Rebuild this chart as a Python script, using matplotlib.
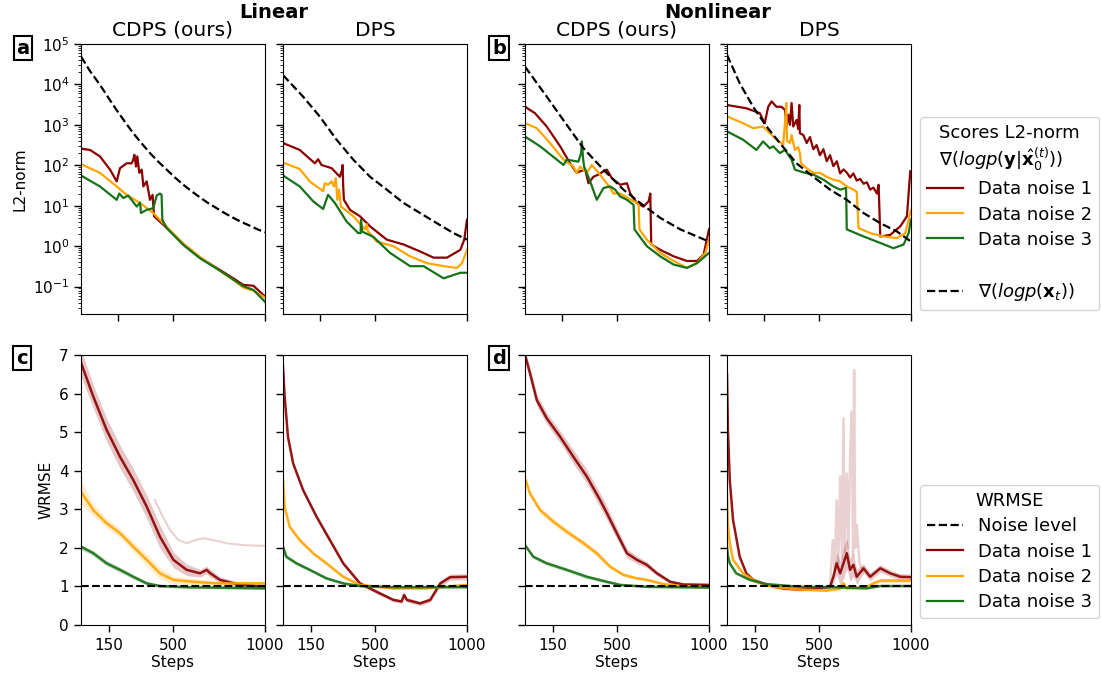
import numpy as np
import matplotlib.pyplot as plt
from matplotlib.lines import Line2D
from matplotlib.ticker import LogLocator, NullFormatter

RED = '#8b0000'
ORANGE = '#ffa500'
GREEN = '#177217'

# ---------------- top row: scores L2-norm ----------------
# Linear, CDPS
la_dash_x = [0, 49, 103, 150, 194, 240, 284, 330, 375, 420, 466, 510, 556, 600, 647, 690, 737, 780,
             828, 870, 918, 960, 1000]
la_dash_y = [4.9e4, 2.14e4, 9.8e3, 4.6e3, 2.3e3, 1.17e3, 620, 347, 200, 123, 78, 50, 33, 23, 16,
             11.7, 8.7, 6.6, 5.0, 4.0, 3.2, 2.6, 2.2]
la_red_x = [0, 49, 103, 158, 194, 212, 248, 275, 284, 290, 299, 306, 317, 330, 339, 357, 375, 389, 397,
            447, 556, 647, 737, 828, 882, 937, 1000]
la_red_y = [257, 240, 166, 78, 40, 85, 112, 112, 138, 182, 93, 166, 65, 78, 30, 40, 14, 18.6, 5.5,
            3.4, 1.15, 0.52, 0.29, 0.16, 0.11, 0.105, 0.057]
la_org_x = [0, 103, 194, 248, 321, 393, 447, 556, 647, 737, 828, 882, 937, 1000]
la_org_y = [107, 65, 30, 18.6, 11.7, 6.6, 3.7, 1.15, 0.54, 0.28, 0.145, 0.095, 0.079, 0.054]
la_grn_x = [0, 103, 194, 208, 230, 257, 303, 321, 326, 357, 393, 411, 429, 438, 442, 466, 556, 647,
            737, 828, 882, 937, 1000]
la_grn_y = [56, 30, 14, 20, 15.5, 17.8, 9.5, 12, 6.6, 7.9, 8.7, 17.8, 20, 18.6, 4.5, 2.8, 1.07, 0.5,
            0.28, 0.15, 0.102, 0.083, 0.042]

# Linear, DPS
lb_dash_x = [0, 109, 200, 291, 382, 473, 564, 655, 745, 836, 927, 1000]
lb_dash_y = [1.7e4, 5.0e3, 1.6e3, 430, 138, 52, 25, 11.7, 6.6, 3.7, 2.1, 1.45]
lb_red_x = [0, 91, 173, 191, 209, 264, 309, 322, 324, 327, 331, 364, 418, 473, 564, 655, 745, 818,
            891, 964, 985, 1000]
lb_red_y = [355, 240, 112, 141, 102, 85, 52, 80, 102, 32, 14, 7.9, 5.5, 3.1, 1.45, 1.1, 0.74, 0.52,
            0.52, 0.81, 1.45, 4.5]
lb_org_x = [0, 91, 145, 218, 227, 245, 264, 276, 287, 295, 305, 315, 327, 382, 445, 455, 460, 509,
            600, 691, 782, 873, 945, 973, 1000]
lb_org_y = [117, 81, 40, 23, 36, 33, 40, 30, 48, 14, 25, 9.5, 8.7, 5.5, 2.6, 3.5, 2.4, 1.3,
            1.0, 0.56, 0.38, 0.32, 0.29, 0.38, 0.81]
lb_grn_x = [0, 91, 164, 218, 245, 282, 345, 409, 422, 424, 430, 491, 582, 691, 764, 873, 964, 1000]
lb_grn_y = [56, 30, 12.9, 8.3, 18.6, 11.7, 4.1, 2.1, 2.1, 4.5, 2.3, 1.7, 0.68, 0.32, 0.32, 0.16,
            0.22, 0.22]

# Nonlinear, CDPS
na_dash_x = [0, 118, 209, 318, 426, 535, 626, 735, 844, 1000]
na_dash_y = [2.75e4, 5.0e3, 1.3e3, 263, 78, 25, 11.7, 5.0, 2.6, 1.3]
na_red_x = [0, 54, 118, 191, 245, 281, 299, 327, 345, 372, 399, 427, 445, 472, 517, 554, 572, 608,
            644, 672, 681, 686, 735, 808, 880, 935, 971, 1000]
na_red_y = [2800, 1950, 910, 295, 112, 65, 71, 78, 36, 52, 59, 71, 78, 48, 33, 36, 20, 11.7,
            9.5, 12.9, 20, 1.1, 0.81, 0.56, 0.43, 0.43, 0.62, 2.6]
na_org_x = [0, 64, 136, 209, 263, 281, 299, 336, 363, 408, 463, 481, 517, 590, 617, 622, 662, 735,
            808, 880, 935, 980, 1000]
na_org_y = [1100, 830, 355, 138, 93, 65, 93, 65, 102, 59, 27.5, 20, 20, 12.9, 11.7, 2.6, 1.45, 0.68,
            0.43, 0.29, 0.38, 0.68, 1.45]
na_grn_x = [0, 82, 209, 227, 290, 305, 309, 315, 321, 354, 390, 427, 463, 490, 517, 554, 590, 595,
            662, 735, 808, 880, 935, 1000]
na_grn_y = [513, 295, 102, 138, 123, 200, 390, 158, 93, 40, 14, 27.5, 30, 25, 17, 14, 10.5, 2.6,
            1.0, 0.56, 0.35, 0.29, 0.38, 0.68]

# Nonlinear, DPS
nb_dash_x = [0, 69, 142, 215, 287, 378, 469, 560, 651, 742, 833, 924, 1000]
nb_dash_y = [5.4e4, 1.07e4, 2800, 910, 355, 112, 52, 25, 14, 6.6, 3.7, 2.3, 1.3]
nb_red_x = [0, 105, 178, 205, 224, 242, 269, 296, 315, 324, 333, 342, 351, 360, 378, 387, 393, 396,
            415, 433, 451, 469, 487, 505, 524, 542, 560, 578, 597, 615, 633, 651, 669, 687, 705,
            724, 742, 760, 778, 796, 815, 824, 833, 887, 942, 978, 996]
nb_red_y = [3100, 2570, 1950, 1100, 2800, 3800, 2800, 2800, 2350, 910, 1780, 1000, 3470, 910, 1320,
            790, 3100, 620, 560, 355, 500, 250, 316, 178, 250, 126, 178, 95, 126, 63, 79, 66, 50,
            63, 42, 46, 35, 38, 25, 28, 20, 33, 1.74, 1.9, 3.1, 5.5, 71]
nb_org_x = [0, 87, 142, 196, 251, 305, 318, 322, 326, 342, 351, 369, 387, 396, 402, 433, 469, 505,
            542, 578, 615, 651, 687, 705, 715, 778, 851, 924, 969, 1000]
nb_org_y = [1620, 1100, 830, 910, 513, 324, 1580, 3470, 400, 355, 560, 240, 282, 200, 112, 85, 65,
            65, 52, 44, 40, 30, 25, 22, 2.8, 2.1, 1.74, 1.58, 2.1, 7.9]
nb_grn_x = [0, 87, 160, 196, 233, 251, 287, 315, 351, 369, 424, 469, 524, 578, 615, 647, 651, 742,
            833, 905, 960, 987, 1000]
nb_grn_y = [690, 430, 240, 390, 263, 295, 200, 240, 138, 78, 65, 59, 44, 30, 25, 27.5, 2.6, 1.74,
            1.2, 0.89, 1.1, 2.1, 4.5]

# ---------------- bottom row: WRMSE (mean and ensemble spread) ----------------
# Linear, CDPS
wa_red_x = [0, 67, 139, 212, 284, 357, 429, 502, 574, 647, 683, 700, 755, 864, 1000]
wa_red_y = [6.8, 5.92, 5.06, 4.36, 3.76, 3.07, 2.29, 1.69, 1.43, 1.34, 1.43, 1.35, 1.17, 1.04, 0.99]
wa_red_s = [0.35, 0.3, 0.3, 0.3, 0.3, 0.3, 0.3, 0.2, 0.15, 0.1, 0.1, 0.1, 0.08, 0.06, 0.06]
wa_out_x = [400, 440, 484, 530, 574, 620, 665, 720, 792, 880, 1000]
wa_out_y = [3.25, 2.85, 2.46, 2.2, 2.12, 2.2, 2.25, 2.2, 2.12, 2.07, 2.05]
wa_org_x = [0, 67, 139, 212, 284, 357, 429, 502, 611, 737, 1000]
wa_org_y = [3.45, 2.98, 2.64, 2.38, 2.03, 1.69, 1.34, 1.17, 1.12, 1.08, 1.08]
wa_org_s = [0.3, 0.15, 0.12, 0.12, 0.12, 0.15, 0.15, 0.1, 0.08, 0.06, 0.05]
wa_grn_x = [0, 67, 139, 212, 284, 357, 429, 574, 1000]
wa_grn_y = [2.03, 1.86, 1.60, 1.43, 1.25, 1.08, 1.01, 0.98, 0.95]
wa_grn_s = [0.07, 0.07, 0.07, 0.07, 0.06, 0.05, 0.04, 0.03, 0.03]

# Linear, DPS
wb_red_x = [0, 9, 27, 55, 109, 182, 255, 327, 418, 509, 600, 645, 658, 673, 745, 800, 855, 909, 1000]
wb_red_y = [6.7, 5.92, 4.88, 4.19, 3.50, 2.81, 2.20, 1.60, 1.08, 0.86, 0.65, 0.61, 0.78, 0.65, 0.56,
            0.65, 1.08, 1.24, 1.25]
wb_red_s = [0.06, 0.06, 0.06, 0.06, 0.06, 0.06, 0.06, 0.06, 0.05, 0.05, 0.05, 0.05, 0.06, 0.06,
            0.06, 0.06, 0.08, 0.08, 0.08]
wb_org_x = [0, 9, 36, 91, 164, 236, 327, 418, 600, 782, 1000]
wb_org_y = [3.76, 3.07, 2.55, 2.20, 1.86, 1.60, 1.25, 1.04, 0.95, 0.95, 1.04]
wb_org_s = [0.05, 0.05, 0.05, 0.05, 0.05, 0.05, 0.04, 0.04, 0.03, 0.03, 0.03]
wb_grn_x = [0, 18, 73, 145, 236, 327, 418, 600, 1000]
wb_grn_y = [2.03, 1.77, 1.60, 1.43, 1.21, 1.08, 1.01, 0.98, 0.98]
wb_grn_s = [0.06, 0.05, 0.05, 0.04, 0.04, 0.03, 0.03, 0.02, 0.02]

# Nonlinear, CDPS
wc_red_x = [0, 27, 64, 118, 191, 263, 336, 408, 445, 499, 554, 608, 662, 717, 789, 862, 1000]
wc_red_y = [7.0, 6.53, 5.83, 5.36, 4.88, 4.36, 3.85, 3.24, 2.90, 2.38, 1.86, 1.69, 1.56, 1.34, 1.12,
            1.05, 1.04]
wc_red_s = [0.15, 0.15, 0.15, 0.15, 0.15, 0.18, 0.18, 0.18, 0.18, 0.15, 0.12, 0.1, 0.08, 0.06, 0.05,
            0.04, 0.04]
wc_org_x = [0, 27, 82, 154, 227, 318, 390, 463, 535, 608, 662, 753, 844, 1000]
wc_org_y = [3.80, 3.41, 2.98, 2.68, 2.42, 2.12, 1.86, 1.51, 1.30, 1.21, 1.17, 1.06, 1.01, 0.99]
wc_org_s = [0.08, 0.08, 0.08, 0.08, 0.08, 0.08, 0.08, 0.06, 0.05, 0.04, 0.04, 0.03, 0.03, 0.03]
wc_grn_x = [0, 45, 118, 227, 336, 445, 517, 662, 1000]
wc_grn_y = [2.07, 1.77, 1.60, 1.43, 1.25, 1.12, 1.04, 0.99, 0.97]
wc_grn_s = [0.05, 0.05, 0.05, 0.05, 0.05, 0.04, 0.03, 0.02, 0.02]

# Nonlinear, DPS
wd_red_x = [0, 5, 15, 33, 69, 105, 142, 215, 305, 396, 487, 560, 578, 596, 615, 633, 651, 669, 687,
            705, 742, 778, 833, 887, 942, 1000]
wd_red_y = [6.5, 5.06, 3.76, 2.72, 1.77, 1.34, 1.17, 1.04, 0.95, 0.92, 0.95, 0.99, 1.25, 1.60, 1.34,
            1.60, 1.86, 1.43, 1.56, 1.25, 1.47, 1.25, 1.47, 1.34, 1.25, 1.24]
wd_red_s = [0.1, 0.1, 0.08, 0.06, 0.05, 0.05, 0.05, 0.04, 0.04, 0.04, 0.04, 0.05, 0.15, 0.3, 0.3,
            0.4, 0.4, 0.3, 0.3, 0.2, 0.12, 0.1, 0.1, 0.08, 0.08, 0.08]
wd_spk_x = [560, 575, 585, 596, 605, 615, 625, 633, 640, 651, 660, 669, 678, 685, 691, 697, 705,
            720, 740]
wd_spk_y = [1.0, 2.2, 1.4, 3.24, 1.6, 3.85, 1.7, 5.36, 1.9, 3.93, 2.0, 4.4, 5.53, 1.8, 6.61, 2.0,
            2.6, 1.6, 1.4]
wd_org_x = [0, 5, 15, 33, 87, 160, 251, 396, 542, 615, 633, 651, 760, 796, 833, 1000]
wd_org_y = [3.4, 2.6, 2.12, 1.69, 1.34, 1.12, 0.99, 0.92, 0.89, 0.95, 1.08, 0.95, 0.99, 1.08, 1.15,
            1.15]
wd_org_s = [0.05, 0.05, 0.05, 0.04, 0.04, 0.03, 0.03, 0.03, 0.03, 0.05, 0.08, 0.05, 0.04, 0.05,
            0.06, 0.06]
wd_grn_x = [0, 5, 15, 50, 124, 215, 396, 578, 760, 833, 1000]
wd_grn_y = [2.03, 1.80, 1.60, 1.34, 1.17, 1.06, 0.99, 0.98, 0.95, 1.01, 1.01]
wd_grn_s = [0.03, 0.03, 0.03, 0.03, 0.03, 0.02, 0.02, 0.02, 0.02, 0.02, 0.02]

col_titles = ['CDPS (ours)', 'DPS', 'CDPS (ours)', 'DPS']
top_xticks = [200, 500, 1000]
bottom_xticks = [150, 500, 1000]
wrmse_ticks = [0, 1, 2, 3, 4, 5, 6, 7]

# ---------------- layout (pixel boxes) ----------------
W, H = 1101, 684
fig = plt.figure(figsize=(W / 100, H / 100), dpi=100)
cols = [(81, 265), (283, 467), (525, 709), (727, 911)]
rows = [(44, 314), (355, 625)]


def add_ax(c, r):
    x0, x1 = cols[c]
    y0, y1 = rows[r]
    return fig.add_axes([x0 / W, 1 - y1 / H, (x1 - x0) / W, (y1 - y0) / H])


top_data = [
    (la_dash_x, la_dash_y, la_red_x, la_red_y, la_org_x, la_org_y, la_grn_x, la_grn_y),
    (lb_dash_x, lb_dash_y, lb_red_x, lb_red_y, lb_org_x, lb_org_y, lb_grn_x, lb_grn_y),
    (na_dash_x, na_dash_y, na_red_x, na_red_y, na_org_x, na_org_y, na_grn_x, na_grn_y),
    (nb_dash_x, nb_dash_y, nb_red_x, nb_red_y, nb_org_x, nb_org_y, nb_grn_x, nb_grn_y),
]

for c, d in enumerate(top_data):
    ax = add_ax(c, 0)
    dx, dy, rx, ry, ox, oy, gx, gy = d
    ax.plot(rx, ry, color=RED, lw=1.6)
    ax.plot(ox, oy, color=ORANGE, lw=1.6)
    ax.plot(gx, gy, color=GREEN, lw=1.6)
    ax.plot(dx, dy, color='black', ls='--', lw=1.6)
    ax.set_yscale('log')
    ax.set_ylim(0.021, 1e5)
    ax.set_xlim(0, 1000)
    ax.set_xticks(top_xticks)
    ax.set_xticklabels([])
    ax.yaxis.set_major_locator(LogLocator(base=10, numticks=20))
    ax.yaxis.set_minor_locator(LogLocator(base=10, subs=np.arange(2, 10), numticks=20))
    ax.yaxis.set_minor_formatter(NullFormatter())
    ax.tick_params(axis='both', which='major', length=5, width=1, labelsize=11)
    ax.tick_params(axis='y', which='minor', length=2.5, width=0.6)
    ax.set_title(col_titles[c], fontsize=14.5)
    if c == 0:
        ax.set_ylabel('L2-norm', fontsize=11)
    else:
        ax.set_yticklabels([])

bottom_data = [
    [(wa_red_x, wa_red_y, wa_red_s, RED), (wa_org_x, wa_org_y, wa_org_s, ORANGE),
     (wa_grn_x, wa_grn_y, wa_grn_s, GREEN)],
    [(wb_red_x, wb_red_y, wb_red_s, RED), (wb_org_x, wb_org_y, wb_org_s, ORANGE),
     (wb_grn_x, wb_grn_y, wb_grn_s, GREEN)],
    [(wc_red_x, wc_red_y, wc_red_s, RED), (wc_org_x, wc_org_y, wc_org_s, ORANGE),
     (wc_grn_x, wc_grn_y, wc_grn_s, GREEN)],
    [(wd_red_x, wd_red_y, wd_red_s, RED), (wd_org_x, wd_org_y, wd_org_s, ORANGE),
     (wd_grn_x, wd_grn_y, wd_grn_s, GREEN)],
]

for c, series in enumerate(bottom_data):
    ax = add_ax(c, 1)
    if c == 0:
        ax.plot(wa_out_x, wa_out_y, color=RED, alpha=0.18, lw=1.5)
    if c == 3:
        ax.plot(wd_spk_x, wd_spk_y, color=RED, alpha=0.18, lw=1.8)
    for x, y, s, col in series:
        y = np.array(y)
        s = np.array(s)
        ax.fill_between(x, y - s, y + s, color=col, alpha=0.22, lw=0)
        ax.plot(x, y, color=col, lw=1.8, alpha=0.9)
    ax.axhline(1, color='black', ls='--', lw=1.5)
    ax.set_xlim(0, 1000)
    ax.set_ylim(0, 7)
    ax.set_xticks(bottom_xticks)
    ax.set_yticks(wrmse_ticks)
    ax.tick_params(axis='both', which='major', length=5, width=1, labelsize=11, pad=4)
    ax.set_xlabel('Steps', fontsize=11, labelpad=2)
    if c == 0:
        ax.set_ylabel('WRMSE', fontsize=11)
    else:
        ax.set_yticklabels([])

# group titles and panel letters
fig.text(274 / W, 1 - 12 / H, 'Linear', fontsize=14, fontweight='bold', ha='center', va='center')
fig.text(718 / W, 1 - 12 / H, 'Nonlinear', fontsize=14, fontweight='bold', ha='center', va='center')
for lab, px, py in [('a', 23, 48), ('b', 499, 48), ('c', 22, 358), ('d', 499, 358)]:
    fig.text(px / W, 1 - py / H, lab, fontsize=14, fontweight='bold', ha='center', va='center',
             bbox=dict(boxstyle='square,pad=0.15', fc='white', ec='black', lw=1.5))

# legends
top_handles = [Line2D([], [], color=RED, lw=1.6), Line2D([], [], color=ORANGE, lw=1.6),
               Line2D([], [], color=GREEN, lw=1.6), Line2D([], [], color='none'),
               Line2D([], [], color='black', ls='--', lw=1.6)]
top_labels = ['Data noise 1', 'Data noise 2', 'Data noise 3', ' ', r'$\nabla(logp(\mathbf{x}_t))$']
fig.legend(top_handles, top_labels, loc='upper left', bbox_to_anchor=(920 / W, 1 - 117 / H),
           fontsize=13, title_fontsize=13, borderaxespad=0, labelspacing=0.4,
           title='Scores L2-norm\n' + r'$\nabla(logp(\mathbf{y}|\hat{\mathbf{x}}_0^{(t)}))$')

bot_handles = [Line2D([], [], color='black', ls='--', lw=1.6), Line2D([], [], color=RED, lw=1.6),
               Line2D([], [], color=ORANGE, lw=1.6), Line2D([], [], color=GREEN, lw=1.6)]
bot_labels = ['Noise level', 'Data noise 1', 'Data noise 2', 'Data noise 3']
fig.legend(bot_handles, bot_labels, loc='upper left', bbox_to_anchor=(920 / W, 1 - 485 / H),
           fontsize=13, title_fontsize=13, borderaxespad=0, labelspacing=0.4, title='WRMSE')

fig.savefig('out.png', dpi=100)
